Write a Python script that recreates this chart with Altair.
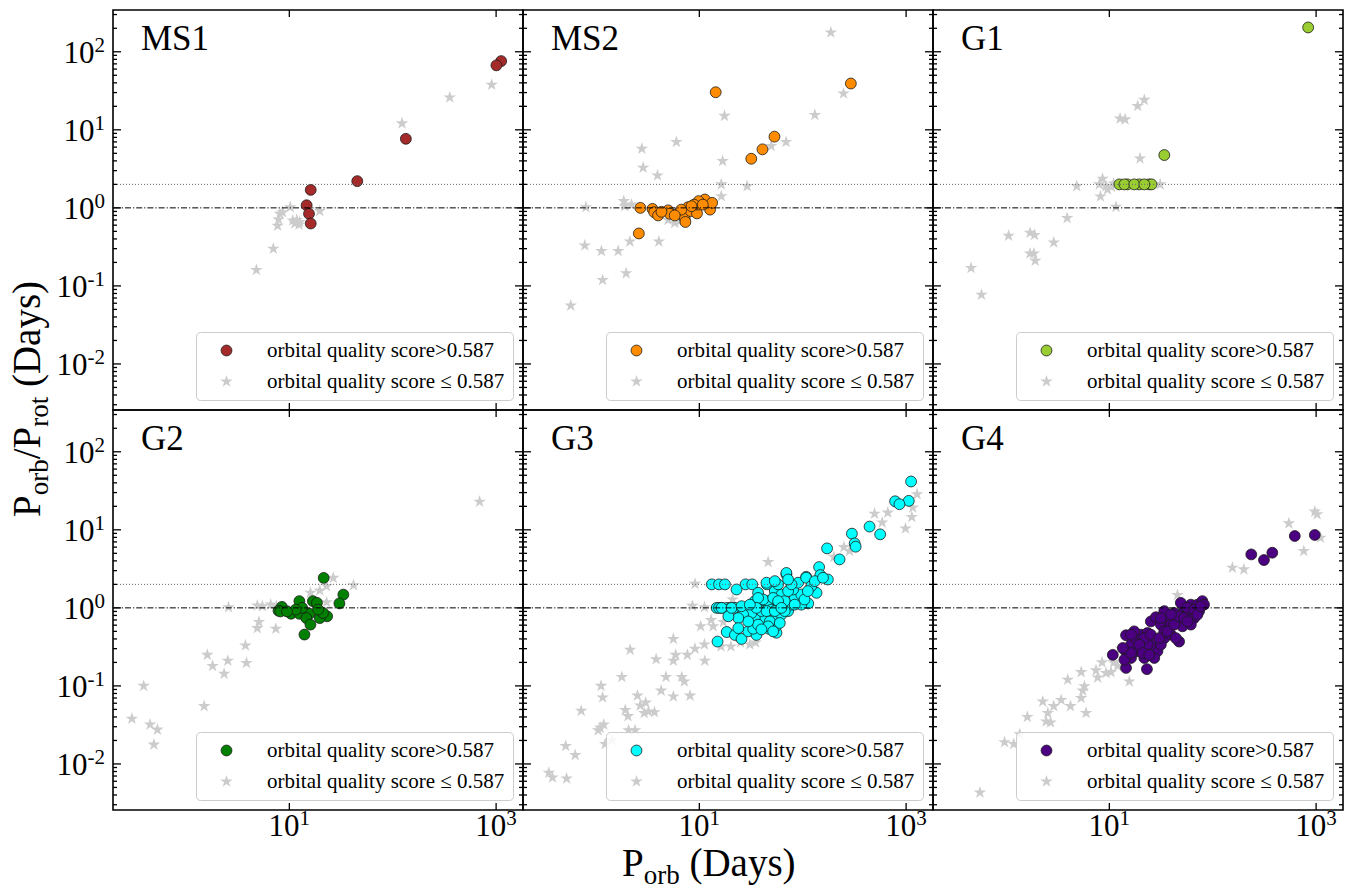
import altair as alt
import pandas as pd

FONT = "Liberation Serif"
PANEL_W, PANEL_H = 410, 400
X_DOMAIN = [0.197, 1820]
Y_DOMAIN = [0.00257, 343]
HI = "orbital quality score>0.587"
LO = "orbital quality score \u2264 0.587"
GREY = "#cccccc"
EDGE = "#1a1a1a"
STAR = ("M0,-1L0.2245,-0.309L0.9511,-0.309L0.3633,0.118L0.5878,0.809L0,0.382"
        "L-0.5878,0.809L-0.3633,0.118L-0.9511,-0.309L-0.2245,-0.309Z")

PANEL_NAMES = ["MS1", "MS2", "G1", "G2", "G3", "G4"]
PANEL_COLORS = ["#a52a2a", "#ff8c00", "#9acd32", "#008000", "#00ffff", "#4b0082"]

# ---------------- data ----------------
MS1_HI_X = [1119, 1007, 134, 45.4, 16.1, 14.7, 15.5, 16.1]
MS1_HI_Y = [76, 67, 7.67, 2.2, 1.70, 1.08, 0.84, 0.63]
MS1_LO_X = [906, 356, 123, 19.7, 10.2, 8.1, 7.86, 7.7, 8.6, 10.8, 11.8, 12.6, 11.3, 12.4, 7.0, 4.8]
MS1_LO_Y = [37.8, 26, 12.1, 0.91, 1.02, 0.84, 0.71, 0.59, 0.88, 0.69, 0.70, 0.66, 0.63, 0.61, 0.30, 0.16]

MS2_HI_X = [292, 14.4, 53.3, 40.8, 31.8, 2.6, 2.69, 3.52, 3.66, 3.99, 4.99, 5.17, 6.22, 7.22, 7.33,
            7.78, 8.24, 9.49, 9.71, 11.3, 9.85, 12.7, 13.3, 8.89, 6.7, 5.78, 4.3, 10.8, 8.4]
MS2_HI_Y = [39.2, 30.3, 8.17, 5.62, 4.26, 0.47, 1.0, 0.97, 0.88, 0.80, 0.93, 0.84, 0.85, 0.74, 0.66,
            1.02, 0.91, 0.85, 1.10, 1.28, 1.22, 0.95, 1.16, 1.10, 0.95, 0.80, 0.89, 1.10, 1.05]
MS2_LO_X = [187, 248, 131, 69, 49.5, 17.5, 16.8, 16.3, 16.3, 29, 6.0, 2.78, 2.86, 3.94, 1.86, 1.9,
            2.21, 0.80, 0.78, 1.13, 1.64, 2.13, 4.06, 1.16, 1.96, 0.57, 4.99, 5.78, 6.5]
MS2_LO_Y = [177, 29.2, 15.5, 6.98, 6.2, 15.1, 3.98, 2.0, 1.41, 1.9, 6.98, 5.73, 3.27, 2.6, 1.22, 1.05,
            1.1, 1.02, 0.33, 0.28, 0.28, 0.37, 0.37, 0.119, 0.145, 0.056, 0.70, 0.64, 0.68]

G1_HI_X = [838, 34, 12.5, 15, 19.5, 24.3, 25.6, 14, 17.4, 21.8]
G1_HI_Y = [205, 4.75, 2, 2, 2, 2, 2, 2, 2, 2]
G1_LO_X = [21.8, 18.8, 12.7, 14.2, 19.8, 8.6, 4.84, 8.0, 9.6, 8.2, 9.3, 31, 11.6, 3.91, 1.06, 1.71,
           1.89, 2.9, 1.71, 1.86, 1.92, 0.46, 0.58, 10.5, 11]
G1_LO_Y = [24.2, 20.2, 13.9, 13.6, 4.3, 2.36, 1.9, 2.0, 1.72, 1.4, 1.9, 2.0, 1.03, 0.74, 0.44, 0.48,
           0.45, 0.36, 0.26, 0.26, 0.21, 0.17, 0.077, 1.85, 2.05]

G2_HI_X = [21.5, 33.3, 30.5, 12.5, 16.9, 18.5, 8.47, 7.86, 8.2, 10.4, 12.5, 15.7, 13.3, 14.6, 16,
           14, 20.4, 23.2, 19.7, 21.2, 11.5, 19, 9.5]
G2_HI_Y = [2.42, 1.48, 1.14, 1.22, 1.22, 1.16, 1.03, 0.92, 0.90, 0.84, 0.84, 0.84, 1.0, 0.74, 0.61,
           0.455, 0.81, 0.78, 0.74, 0.86, 0.95, 0.95, 0.9]
G2_LO_X = [692, 26.6, 41.8, 22.9, 19.7, 16, 22.9, 2.58, 4.9, 5.49, 6.6, 7.5, 9.0, 5.08, 4.9, 7.4,
           3.76, 1.61, 1.81, 2.54, 3.85, 2.34, 1.5, 0.39, 0.30, 0.45, 0.53, 0.49]
G2_LO_Y = [22.9, 2.42, 1.95, 1.9, 1.67, 1.56, 1.18, 1.02, 1.07, 1.05, 1.1, 1.05, 1.02, 0.66, 0.55,
           0.54, 0.33, 0.25, 0.18, 0.21, 0.197, 0.143, 0.055, 0.10, 0.038, 0.032, 0.0275, 0.0177]

G3_HI_X = [1117, 1061, 783, 862, 561, 443, 299, 318, 325, 227, 172, 144, 175, 148, 108, 136, 113,
           13.2, 15.5, 17.7, 28, 32.5, 45, 22.9, 69.5,
           14.7, 16.4, 18.4, 22.1, 25.6, 29.7, 34.4, 39.9, 46.3, 15.5, 20,
           15, 18.4, 22.1, 25.6, 29.7, 35.7, 47, 55.7, 55,
           33.2, 43, 39.9, 34.4, 53.7, 62.2, 72.2, 77.8, 83.7, 97, 53.7, 46.3, 53.7, 62.2, 67, 37,
           44.6, 39.9, 32, 26.5, 49.9, 57.8, 48.1, 60, 37, 29.7, 23.8, 19.1, 16.4, 80.7, 90.2, 72.2,
           57.8, 77.8, 97, 104, 41.4, 34.4, 37, 51.8, 57.8, 44.6, 35.7, 53.7, 67, 83.7, 62.2, 46.3,
           39.9, 51.8, 23.8, 20.5, 25.6, 30.8, 53.7, 69.5, 72.2, 108, 121, 131, 157, 112]
G3_HI_Y = [41.6, 23.5, 23.2, 21.3, 8.75, 11, 8.93, 6.7, 6.08, 4.18, 5.78, 3.33, 2.31, 2.63, 2.5, 1.56, 1.14,
           2, 2, 2, 2, 2, 2, 1.72, 2.68,
           1, 1, 1, 1, 1, 1, 1, 1, 1, 1.0, 1.0,
           0.37, 0.49, 0.45, 0.40, 0.50, 0.45, 0.54, 0.48, 0.58,
           0.54, 0.61, 0.74, 0.74, 0.74, 0.82, 0.91, 1.10, 1.34, 1.48, 1.10, 1.22, 1.64, 1.48, 1.22, 1.56,
           2.1, 0.91, 0.86, 0.82, 0.95, 1.0, 0.67, 0.64, 0.61, 0.67, 0.74, 0.78, 1.0, 1.72, 2.1, 1.64,
           2.0, 2.0, 1.1, 1.28, 1.28, 1.22, 1.34, 1.34, 1.22, 0.91, 1.0, 0.91, 0.91, 1.10, 1.0, 0.58,
           0.53, 0.50, 0.55, 1.0, 1.05, 1.10, 2.2, 2.8, 2.31, 2.43, 1.9, 2.2, 2.43, 1.64]
G3_LO_X = [1277, 1159, 1135, 986, 665, 495, 587, 284, 46.3, 9.08, 8.56, 11.2, 21, 10.3, 13.6, 17.1,
           11.2, 16.2, 20.2, 30.8, 5.61, 9.08, 7.66, 11.3, 2.14, 3.82, 5.61, 5.9, 1.78, 4.76, 6.76,
           7.16, 4.27, 5.61, 8.13, 1.12, 1.16, 2.52, 3.03, 2.68, 3.22, 3.68, 2.93, 0.72, 1.92, 2.04,
           1.19, 1.1, 1.05, 2.07, 2.39, 1.23, 1.43, 0.51, 0.63, 0.35, 0.38, 0.52, 200, 250, 13, 25, 35]
G3_LO_Y = [28.6, 19.3, 14.6, 10.4, 16.6, 16.1, 12.4, 5.35, 3.86, 2.03, 1.06, 1.02, 1.28, 0.58, 0.58, 0.66,
           0.34, 0.32, 0.32, 0.34, 0.40, 0.30, 0.25, 0.21, 0.29, 0.22, 0.21, 0.25, 0.13, 0.13, 0.13,
           0.114, 0.087, 0.073, 0.075, 0.10, 0.071, 0.075, 0.061, 0.056, 0.047, 0.046, 0.045, 0.048, 0.049, 0.041,
           0.032, 0.029, 0.027, 0.027, 0.027, 0.018, 0.020, 0.017, 0.013, 0.0077, 0.0067, 0.0065, 4.5, 6.0, 0.7, 0.36, 0.36]

G4_HI_X = [971, 622, 377, 313, 236, 10.8, 14.5, 23.1,
           14.3, 14.5, 16.2, 18.1, 20.2, 23.4, 25.2, 28.2, 31.5, 34, 36.5, 39.4, 42.4, 45.6, 47.3, 52.8,
           57, 61.4, 66.1, 71.1, 79.4, 82.4, 73.8, 49.1, 34, 29.2, 27.2, 21.8, 18.8, 16.2, 14, 25.2, 31.5,
           39.4, 51, 61.4, 23.4, 34, 17.4, 21.8, 19.5, 25.2, 30.3, 36.5, 42.4, 47.3, 57, 66.1, 71.1, 39.4,
           31.5, 16.2, 21, 24.3, 16.2, 13.5, 52.8, 44, 57, 76.6]
G4_HI_Y = [8.59, 8.33, 5.09, 4.1, 4.84, 0.25, 0.17, 0.164,
           0.283, 0.446, 0.338, 0.41, 0.454, 0.477, 0.67, 0.76, 0.61, 0.41, 0.74, 0.454, 0.86, 0.67, 0.37, 1.0,
           0.82, 1.10, 0.74, 1.10, 1.22, 1.10, 0.91, 1.16, 0.91, 0.278, 0.228, 0.228, 0.278, 0.228, 0.217, 0.338, 0.338,
           0.61, 0.58, 0.61, 0.338, 0.50, 0.50, 0.41, 0.338, 0.454, 0.41, 0.50, 0.61, 0.78, 1.0, 0.95, 0.82, 0.82,
           0.74, 0.454, 0.264, 0.25, 0.264, 0.306, 0.74, 0.41, 0.67, 1.05]
G4_LO_X = [971, 1023, 1102, 760, 545, 155, 200, 45.6, 15.6, 10.4, 9.29, 7.43, 7.71, 5.34, 3.96, 5.74,
           5.53, 5.34, 4.21, 5.96, 3.42, 2.9, 2.27, 2.54, 2.45, 2.7, 1.61, 1.36, 0.97, 1.19, 0.56, 12, 11, 8.5, 13]
G4_LO_Y = [17.1, 15.8, 7.93, 5.35, 12.1, 3.27, 3.11, 1.46, 0.114, 0.15, 0.146, 0.158, 0.128, 0.15, 0.12, 0.099,
           0.087, 0.07, 0.055, 0.045, 0.066, 0.055, 0.063, 0.045, 0.035, 0.034, 0.04, 0.024, 0.019, 0.018, 0.0043,
           0.18, 0.2, 0.2, 0.3]

HI_X = [MS1_HI_X, MS2_HI_X, G1_HI_X, G2_HI_X, G3_HI_X, G4_HI_X]
HI_Y = [MS1_HI_Y, MS2_HI_Y, G1_HI_Y, G2_HI_Y, G3_HI_Y, G4_HI_Y]
LO_X = [MS1_LO_X, MS2_LO_X, G1_LO_X, G2_LO_X, G3_LO_X, G4_LO_X]
LO_Y = [MS1_LO_Y, MS2_LO_Y, G1_LO_Y, G2_LO_Y, G3_LO_Y, G4_LO_Y]

# ticks and tick labels
X_TICKS_MAJOR = [10, 1000]
X_LABEL_EXP = ["1", "3"]
Y_TICKS_MAJOR = [0.01, 0.1, 1, 10, 100]
Y_LABEL_EXP = ["-2", "-1", "0", "1", "2"]
Y_TICKS_MINOR = [0.003, 0.004, 0.005, 0.006, 0.007, 0.008, 0.009,
                 0.02, 0.03, 0.04, 0.05, 0.06, 0.07, 0.08, 0.09,
                 0.2, 0.3, 0.4, 0.5, 0.6, 0.7, 0.8, 0.9,
                 2, 3, 4, 5, 6, 7, 8, 9,
                 20, 30, 40, 50, 60, 70, 80, 90, 200, 300]
LABEL_BASE = "10"
REF_DASHDOT = [1]
REF_DOTTED = [2]

ADV = {'P': 0.556, 'o': 0.5, 'r': 0.333, 'b': 0.5, '/': 0.278, 't': 0.278, ' ': 0.25,
       '(': 0.333, 'D': 0.722, 'a': 0.444, 'y': 0.5, 's': 0.389, ')': 0.333, '-': 0.333,
       '0': 0.5, '1': 0.5, '2': 0.5, '3': 0.5}
TITLE_FS, SUB_FS, SUB_DY = 39, 27, 8
LBL_FS, EXP_FS, EXP_RAISE = 31, 21, 11


def tw(s, size):
    return sum(ADV[c] for c in s) * size


def xs():
    return alt.Scale(type="log", domain=X_DOMAIN, nice=False)


def ys():
    return alt.Scale(type="log", domain=Y_DOMAIN, nice=False)


def title_pieces(pieces, x0, y0, angle):
    layers = []
    off = 0.0
    for txt, size, dy in pieces:
        shown = txt.lstrip(" ")
        lead = tw(txt[:len(txt) - len(shown)], size)
        layers.append(
            alt.Chart(pd.DataFrame({"t": [shown]})).mark_text(
                align="left", baseline="alphabetic", font=FONT, fontSize=size,
                color="black", angle=angle, dx=off + lead, dy=dy
            ).encode(text="t:N", x=alt.value(x0), y=alt.value(y0))
        )
        off += tw(txt, size)
    return layers


def y_labels():
    layers = []
    neg = [v for v, e in zip(Y_TICKS_MAJOR, Y_LABEL_EXP) if e.startswith("-")]
    pos = [v for v, e in zip(Y_TICKS_MAJOR, Y_LABEL_EXP) if not e.startswith("-")]
    gap = 8
    for vals, ew in ((neg, tw("-2", EXP_FS)), (pos, tw("2", EXP_FS))):
        layers.append(
            alt.Chart(pd.DataFrame({"v": vals, "t": LABEL_BASE})).mark_text(
                align="right", baseline="alphabetic", font=FONT, fontSize=LBL_FS, color="black",
                dx=-(gap + ew), dy=11
            ).encode(y=alt.Y("v:Q", scale=ys(), axis=None), x=alt.value(0), text="t:N"))
    layers.append(
        alt.Chart(pd.DataFrame({"v": Y_TICKS_MAJOR, "t": Y_LABEL_EXP})).mark_text(
            align="right", baseline="alphabetic", font=FONT, fontSize=EXP_FS, color="black",
            dx=-gap, dy=11 - EXP_RAISE
        ).encode(y=alt.Y("v:Q", scale=ys(), axis=None), x=alt.value(0), text="t:N"))
    return layers


def x_labels():
    total = tw(LABEL_BASE, LBL_FS) + tw("1", EXP_FS)
    base_y = PANEL_H + 26
    return [
        alt.Chart(pd.DataFrame({"v": X_TICKS_MAJOR, "t": LABEL_BASE})).mark_text(
            align="left", baseline="alphabetic", font=FONT, fontSize=LBL_FS, color="black", dx=-total / 2
        ).encode(x=alt.X("v:Q", scale=xs(), axis=None), y=alt.value(base_y), text="t:N"),
        alt.Chart(pd.DataFrame({"v": X_TICKS_MAJOR, "t": X_LABEL_EXP})).mark_text(
            align="left", baseline="alphabetic", font=FONT, fontSize=EXP_FS, color="black",
            dx=-total / 2 + tw(LABEL_BASE, LBL_FS)
        ).encode(x=alt.X("v:Q", scale=xs(), axis=None), y=alt.value(base_y - EXP_RAISE), text="t:N"),
    ]


def panel(i):
    row, col = divmod(i, 3)
    color = PANEL_COLORS[i]
    dom = [HI, LO]
    legend = alt.Legend(title=None)
    common = dict(
        fill=alt.Fill("grp:N", scale=alt.Scale(domain=dom, range=[color, GREY]), legend=legend),
        stroke=alt.Stroke("grp:N", scale=alt.Scale(domain=dom, range=[EDGE, "transparent"]), legend=legend),
        shape=alt.Shape("grp:N", scale=alt.Scale(domain=dom, range=["circle", STAR]), legend=legend),
        size=alt.Size("grp:N", scale=alt.Scale(domain=dom, range=[118, 175]), legend=legend),
    )

    lo_df = pd.DataFrame({"x": LO_X[i], "y": LO_Y[i], "grp": LO})
    hi_df = pd.DataFrame({"x": HI_X[i], "y": HI_Y[i], "grp": HI})

    stars = alt.Chart(lo_df).mark_point(filled=True, opacity=1, strokeWidth=0.8).encode(
        x=alt.X("x:Q", scale=xs(), axis=None), y=alt.Y("y:Q", scale=ys(), axis=None), **common)
    circles = alt.Chart(hi_df).mark_point(filled=True, opacity=1, strokeWidth=0.8).encode(
        x=alt.X("x:Q", scale=xs(), axis=None), y=alt.Y("y:Q", scale=ys(), axis=None), **common)

    dotted = alt.Chart(pd.DataFrame({"v": REF_DOTTED})).mark_rule(
        color="#666666", strokeWidth=1, strokeDash=[1, 2]).encode(y=alt.Y("v:Q", scale=ys(), axis=None))
    dashdot = alt.Chart(pd.DataFrame({"v": REF_DASHDOT})).mark_rule(
        color="black", strokeWidth=1, strokeDash=[6, 2, 1.2, 2]).encode(y=alt.Y("v:Q", scale=ys(), axis=None))

    def yt(vals, length, left):
        a, b = (0, length) if left else (PANEL_W - length, PANEL_W)
        return alt.Chart(pd.DataFrame({"v": vals})).mark_rule(color="black", strokeWidth=1.3).encode(
            y=alt.Y("v:Q", scale=ys(), axis=None), x=alt.value(a), x2=alt.value(b))

    def xt(vals, length, top):
        a, b = (0, length) if top else (PANEL_H - length, PANEL_H)
        return alt.Chart(pd.DataFrame({"v": vals})).mark_rule(color="black", strokeWidth=1.3).encode(
            x=alt.X("v:Q", scale=xs(), axis=None), y=alt.value(a), y2=alt.value(b))

    ticks = [yt(Y_TICKS_MAJOR, 8, True), yt(Y_TICKS_MAJOR, 8, False),
             yt(Y_TICKS_MINOR, 4, True), yt(Y_TICKS_MINOR, 4, False),
             xt(X_TICKS_MAJOR, 7, True), xt(X_TICKS_MAJOR, 7, False)]

    name = alt.Chart(pd.DataFrame({"t": [PANEL_NAMES[i]]})).mark_text(
        align="left", baseline="alphabetic", font=FONT, fontSize=35, color="black"
    ).encode(text="t:N", x=alt.value(28), y=alt.value(40))

    layers = [stars, circles, dotted, dashdot] + ticks + [name]
    if col == 0:
        layers += y_labels()
    if row == 1:
        layers += x_labels()
    if i == 0:
        pieces = [("P", TITLE_FS, 0), ("orb", SUB_FS, SUB_DY), ("/P", TITLE_FS, 0),
                  ("rot", SUB_FS, SUB_DY), (" (Days)", TITLE_FS, 0)]
        total = sum(tw(t, s) for t, s, _ in pieces)
        layers += title_pieces(pieces, -73.5, PANEL_H + total / 2 - 11, 270)
    if i == 4:
        pieces = [("P", TITLE_FS, 0), ("orb", SUB_FS, SUB_DY), (" (Days)", TITLE_FS, 0)]
        layers += title_pieces(pieces, 99, 466, 0)
    return alt.layer(*layers).properties(width=PANEL_W, height=PANEL_H)


RES = dict(fill="independent", stroke="independent", shape="independent", size="independent")
chart = alt.concat(*[panel(i) for i in range(6)], columns=3, spacing=0, bounds="flush").resolve_scale(
    **RES
).properties(
    padding={"left": -1, "top": 0, "right": 5, "bottom": 0}
).configure_view(stroke="black", strokeWidth=1.6).configure_legend(
    orient="bottom-right", offset=10, padding=8, strokeColor="#cccccc", fillColor="rgba(255,255,255,0.85)",
    cornerRadius=4, labelFont=FONT, labelFontSize=21, labelColor="black", labelLimit=500,
    symbolOffset=12, labelOffset=30, rowPadding=9, symbolStrokeWidth=0.8
)

chart.save("out.html", embed_options={"renderer": "svg", "actions": False})
